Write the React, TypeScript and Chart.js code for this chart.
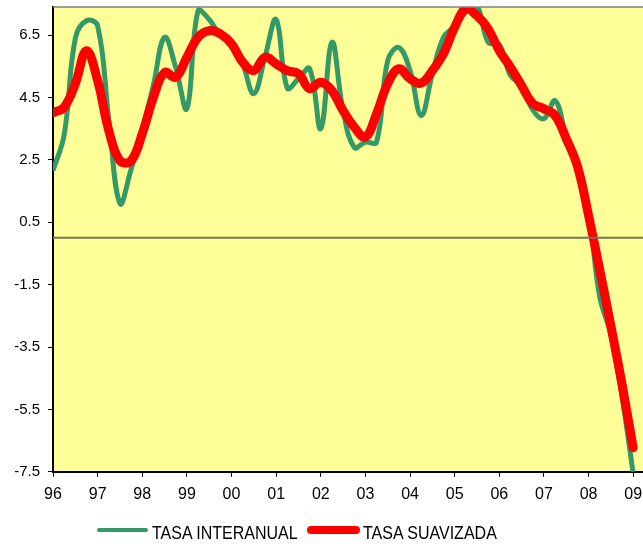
import React, { useEffect, useRef } from 'react';
import { Chart, registerables } from 'chart.js';

Chart.register(...registerables);

// Quarterly periods (year fractions), 1996 Q1 .. 2009 Q1
const periods = [
  1996, 1996.25, 1996.5, 1996.75,
  1997, 1997.25, 1997.5, 1997.75,
  1998, 1998.25, 1998.5, 1998.75,
  1999, 1999.25, 1999.5, 1999.75,
  2000, 2000.25, 2000.5, 2000.75,
  2001, 2001.25, 2001.5, 2001.75,
  2002, 2002.25, 2002.5, 2002.75,
  2003, 2003.25, 2003.5, 2003.75,
  2004, 2004.25, 2004.5, 2004.75,
  2005, 2005.25, 2005.5, 2005.75,
  2006, 2006.25, 2006.5, 2006.75,
  2007, 2007.25, 2007.5, 2007.75,
  2008, 2008.25, 2008.5, 2008.75,
  2009,
];

const tasaInteranual = [
  2.16, 3.3, 6.4, 6.96,
  6.8, 3.8, 1.1, 2.2,
  3.44, 4.9, 6.43, 5.46,
  4.14, 7.28, 7.0, 6.5,
  6.3, 5.58, 4.62, 5.8,
  7.0, 4.8, 5.1, 5.42,
  3.5, 6.27, 4.08, 2.9,
  3.07, 3.07, 5.68, 6.1,
  5.36, 3.92, 5.26, 6.43,
  6.8, 7.55, 7.45, 6.27,
  6.2, 5.2, 4.9, 4.1,
  3.82, 4.4, 3.23, 2.16,
  0.8, -1.89, -3.1, -5.1,
  -7.55,
];

const tasaSuavizada = [
  4.01, 4.19, 4.94, 6.0,
  5.04, 3.44, 2.47, 2.47,
  3.34, 4.5, 5.3, 5.15,
  5.79, 6.43, 6.64, 6.54,
  6.22, 5.63, 5.36, 5.79,
  5.58, 5.36, 5.26, 4.78,
  4.99, 4.72, 4.08, 3.55,
  3.23, 3.98, 4.94, 5.42,
  5.1, 4.96, 5.36, 5.9,
  6.75, 7.33, 7.12, 6.7,
  6.0, 5.47, 4.88, 4.3,
  4.14, 3.92, 3.18, 2.3,
  0.72, -1.02, -2.82, -4.69,
  -6.73,
];

const xTickYears = [1996, 1997, 1998, 1999, 2000, 2001, 2002, 2003, 2004, 2005, 2006, 2007, 2008, 2009];
const xTickLabels = ['96', '97', '98', '99', '00', '01', '02', '03', '04', '05', '06', '07', '08', '09'];
const yTicks = [-7.5, -5.5, -3.5, -1.5, 0.5, 2.5, 4.5, 6.5];

const FONT = '"Liberation Sans", Arial, sans-serif';

export default function App() {
  const ref = useRef<HTMLCanvasElement>(null);

  useEffect(() => {
    document.body.style.margin = '0';
    const bgPlugin = {
      id: 'bgPlugin',
      beforeDraw(chart: any) {
        const { ctx, chartArea: a } = chart;
        ctx.save();
        ctx.fillStyle = '#FFFF99';
        ctx.fillRect(a.left, a.top, a.right - a.left, a.bottom - a.top);
        ctx.restore();
      },
      afterDatasetsDraw(chart: any) {
        const { ctx, chartArea: a, scales } = chart;
        const y0 = scales.y.getPixelForValue(0);
        ctx.save();
        ctx.strokeStyle = '#74745c';
        ctx.lineWidth = 2;
        ctx.beginPath();
        ctx.moveTo(a.left, y0);
        ctx.lineTo(a.right, y0);
        ctx.stroke();
        ctx.strokeStyle = '#808080';
        ctx.lineWidth = 1.5;
        ctx.beginPath();
        ctx.moveTo(a.left, a.top);
        ctx.lineTo(a.right, a.top);
        ctx.stroke();
        ctx.restore();
      },
    };

    const chart = new Chart(ref.current as HTMLCanvasElement, {
      type: 'line',
      data: {
        datasets: [
          {
            label: 'TASA SUAVIZADA',
            data: periods.map((p, i) => ({ x: p, y: tasaSuavizada[i] })),
            borderColor: '#FF0000',
            borderWidth: 9,
            tension: 0.4,
            pointRadius: 0,
            borderCapStyle: 'round',
            borderJoinStyle: 'round',
            fill: false,
            order: 0,
          },
          {
            label: 'TASA INTERANUAL',
            data: periods.map((p, i) => ({ x: p, y: tasaInteranual[i] })),
            borderColor: '#339966',
            borderWidth: 5,
            tension: 0.4,
            pointRadius: 0,
            borderJoinStyle: 'round',
            fill: false,
            order: 1,
            clip: 0,
          },
        ],
      } as any,
      options: {
        responsive: false,
        animation: false,
        events: [],
        layout: { padding: { top: 7, bottom: 35, left: 0, right: 0 } },
        plugins: { legend: { display: false }, tooltip: { enabled: false } },
        scales: {
          x: {
            type: 'linear',
            min: 1996,
            max: 2009.22,
            afterBuildTicks: (s: any) => {
              s.ticks = xTickYears.map((v) => ({ value: v }));
            },
            afterFit: (s: any) => {
              s.paddingLeft = 0;
              s.paddingRight = 0;
            },
            ticks: {
              callback: (_v: any, i: number) => xTickLabels[i],
              font: { family: FONT, size: 16 },
              color: '#000',
              padding: 8,
              maxRotation: 0,
              autoSkip: false,
            },
            grid: { drawOnChartArea: false, drawTicks: true, tickLength: 5, color: '#000', lineWidth: 1 },
            border: { display: true, color: '#000', width: 2 },
          },
          y: {
            type: 'linear',
            min: -7.5,
            max: 7.4,
            afterBuildTicks: (s: any) => {
              s.ticks = yTicks.map((v) => ({ value: v }));
            },
            afterFit: (s: any) => {
              s.width = 53;
              s.paddingTop = 0;
              s.paddingBottom = 0;
            },
            ticks: {
              callback: (v: any) => Number(v).toFixed(1),
              font: { family: FONT, size: 15 },
              color: '#000',
              padding: 8,
            },
            grid: { drawOnChartArea: false, drawTicks: true, tickLength: 5, color: '#000', lineWidth: 1 },
            border: { display: true, color: '#000', width: 2 },
          },
        },
      } as any,
      plugins: [bgPlugin],
    });
    return () => chart.destroy();
  }, []);

  const textStyle: React.CSSProperties = {
    position: 'absolute',
    fontFamily: FONT,
    fontSize: 18,
    lineHeight: '18px',
    transform: 'scaleX(0.89)',
    transformOrigin: 'left top',
    whiteSpace: 'nowrap',
    color: '#000',
  };

  return (
    <div style={{ position: 'relative', width: 643, height: 547, overflow: 'hidden' }}>
      <canvas ref={ref} width={643} height={547} style={{ position: 'absolute', left: 0, top: 0 }} />
      <div style={{ position: 'absolute', left: 97, top: 527.6, width: 51, height: 4.8, background: '#339966', borderRadius: 3 }} />
      <span style={{ ...textStyle, left: 152, top: 524.3 }}>TASA INTERANUAL</span>
      <div style={{ position: 'absolute', left: 307, top: 526, width: 53, height: 8, background: '#FF0000', borderRadius: 4 }} />
      <span style={{ ...textStyle, left: 363, top: 524.3 }}>TASA SUAVIZADA</span>
    </div>
  );
}
